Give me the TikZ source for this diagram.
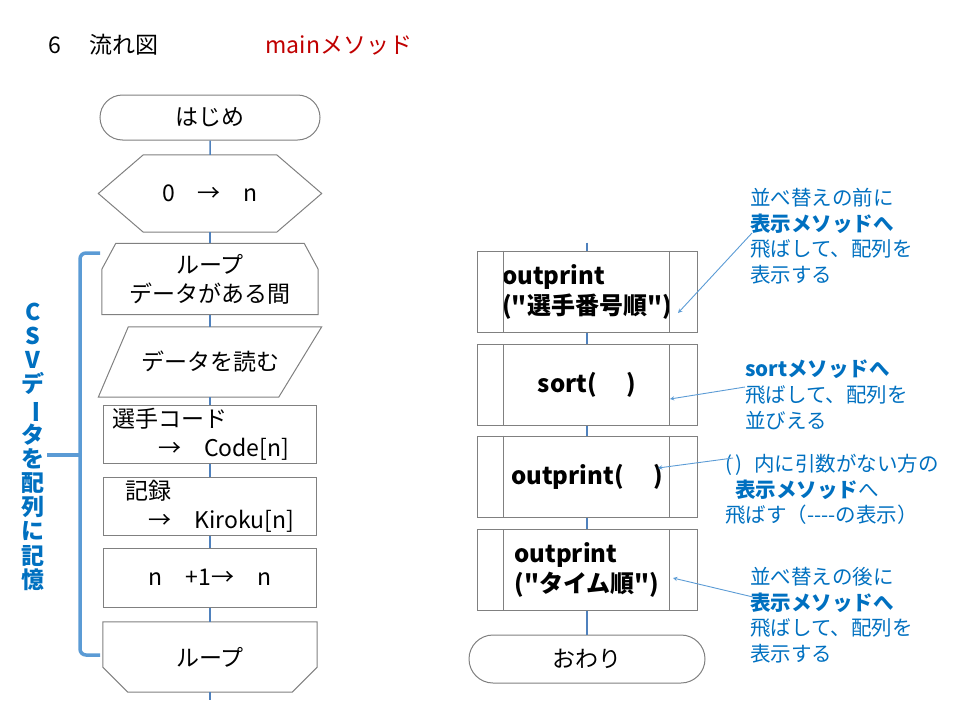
\documentclass[tikz,border=0pt]{standalone}
\usepackage{fontspec}
\setmainfont{Noto Sans CJK JP}
\usepackage{xcolor}
\usetikzlibrary{shapes.misc}
\definecolor{boxgray}{RGB}{128,128,128}
\definecolor{flowblue}{RGB}{79,129,189}
\definecolor{bracecol}{RGB}{91,155,213}
\definecolor{noteblue}{RGB}{0,112,192}
\definecolor{titlered}{RGB}{192,0,0}
\tikzstyle{term} = [rounded rectangle, draw=boxgray, line width=1pt, fill=white, minimum width=220pt, minimum height=45pt, inner sep=0pt]
\tikzstyle{ghost} = [draw=none, inner sep=0pt, align=center]
\tikzstyle{outline} = [draw=boxgray, line width=1pt]
\tikzstyle{proc} = [rectangle, draw=boxgray, line width=1pt, minimum width=213pt, minimum height=58pt, inner sep=0pt, align=left]
\tikzstyle{subr} = [rectangle, draw=boxgray, line width=1pt, minimum width=220pt, minimum height=81pt, inner sep=0pt, align=left, font=\bfseries\fontsize{24pt}{30pt}\selectfont]
\tikzstyle{flow} = [draw=flowblue, line width=1.5pt]
\tikzstyle{pointer} = [->, >=stealth, draw=bracecol, line width=0.9pt]
\tikzstyle{note} = [anchor=north west, inner sep=0pt, align=left, text=noteblue, font=\fontsize{20.5pt}{25.7pt}\selectfont]
\tikzstyle{brace} = [draw=bracecol, line width=3.5pt]

\begin{document}
\begin{tikzpicture}[x=1pt,y=-1pt,font=\fontsize{23pt}{29pt}\selectfont]
  \useasboundingbox (0,0) rectangle (960,720);
  \node[anchor=west] (ttl) at (45,45) {6　 流れ図};
  \node[anchor=west, text=titlered] (mname) at (262,45) {mainメソッド};

  % left column
  \node[term] (start) at (210,117.5) {はじめ};
  \node[ghost, minimum width=223pt, minimum height=77pt, node distance=76pt, below of=start] (init) {0　→　n};
  \node[ghost, minimum width=216pt, minimum height=71pt, node distance=85.5pt, below of=init] (lbeg) {ループ\\データがある間};
  \node[ghost, minimum width=223pt, minimum height=70pt, node distance=83pt, below of=lbeg] (para) {データを読む};
  \node[proc, text width=196pt, node distance=72pt, below of=para] (code) {選手コード\\　　→　Code[n]};
  \node[proc, node distance=72pt, below of=code] (kiro) {記録\\　→　Kiroku[n]};
  \node[proc, minimum height=59pt, node distance=71.5pt, below of=kiro] (incr) {n　+1→　n};
  \node[ghost, minimum width=214pt, minimum height=70pt, node distance=79.5pt, below of=incr] (lend) {ループ};

  \draw[outline] (init.west) -- ([xshift=45pt]init.north west) -- ([xshift=-45pt]init.north east) -- (init.east) -- ([xshift=-45pt]init.south east) -- ([xshift=45pt]init.south west) -- cycle;
  \draw[outline] (lbeg.south west) -- ([yshift=-26pt]lbeg.north west) -- ([xshift=14pt]lbeg.north west) -- ([xshift=-14pt]lbeg.north east) -- ([yshift=-26pt]lbeg.north east) -- (lbeg.south east) -- cycle;
  \draw[outline] (para.south west) -- ([xshift=30pt]para.north west) -- (para.north east) -- ([xshift=-43pt]para.south east) -- cycle;
  \draw[outline] (lend.north west) -- ([yshift=25pt]lend.south west) -- ([xshift=25pt]lend.south west) -- ([xshift=-25pt]lend.south east) -- ([yshift=25pt]lend.south east) -- (lend.north east) -- cycle;

  \coordinate (lout) at ([yshift=-8pt]lend.south);
  \draw[flow] (start) -- (init);
  \draw[flow] (init) -- (lbeg);
  \draw[flow] (lbeg) -- (para);
  \draw[flow] (para) -- (code);
  \draw[flow] (code) -- (kiro);
  \draw[flow] (kiro) -- (incr);
  \draw[flow] (incr) -- (lend);
  \draw[flow] (lend) -- (lout);

  % brace and its label
  \draw[brace, rounded corners=6pt] (100,253) -- (80,253) -- (80,655) -- (100,655);
  \draw[brace] (47,455) -- (80,455);
  \node[anchor=north, inner sep=0pt, align=center, text=noteblue, font=\bfseries\fontsize{23pt}{24.1pt}\selectfont] (store) at (33,303) {C\\S\\V\\デ\\\rotatebox[origin=c]{-90}{ー}\\タ\\を\\配\\列\\に\\記\\憶};

  % right column
  \node[subr] (op1) at (587,291.5) {outprint\\(\textquotedbl 選手番号順\textquotedbl)};
  \node[subr, node distance=93.5pt, below of=op1] (srt) {sort(　 )};
  \node[subr, node distance=91.5pt, below of=srt] (op2) {outprint(　 )};
  \node[subr, node distance=93.5pt, below of=op2] (op3) {outprint\\(\textquotedbl タイム順\textquotedbl)};
  \node[term, minimum width=236pt, minimum height=48pt, node distance=89pt, below of=op3] (fin) {おわり};

  \draw[outline] ([xshift=27pt]op1.north west) -- ([xshift=27pt]op1.south west);
  \draw[outline] ([xshift=-28pt]op1.north east) -- ([xshift=-28pt]op1.south east);
  \draw[outline] ([xshift=27pt]srt.north west) -- ([xshift=27pt]srt.south west);
  \draw[outline] ([xshift=-28pt]srt.north east) -- ([xshift=-28pt]srt.south east);
  \draw[outline] ([xshift=27pt]op2.north west) -- ([xshift=27pt]op2.south west);
  \draw[outline] ([xshift=-28pt]op2.north east) -- ([xshift=-28pt]op2.south east);
  \draw[outline] ([xshift=27pt]op3.north west) -- ([xshift=27pt]op3.south west);
  \draw[outline] ([xshift=-28pt]op3.north east) -- ([xshift=-28pt]op3.south east);

  \coordinate (rin) at ([yshift=8pt]op1.north);
  \draw[flow] (rin) -- (op1);
  \draw[flow] (op1) -- (srt);
  \draw[flow] (srt) -- (op2);
  \draw[flow] (op2) -- (op3);
  \draw[flow] (op3) -- (fin);

  % notes
  \node[note] (n1) at (750,188) {並べ替えの前に\\\textbf{表示メソッドへ}\\飛ばして、配列を\\表示する};
  \node[note] (n2) at (745,360) {\textbf{sortメソッドへ}\\飛ばして、配列を\\並びえる};
  \node[note] (n3) at (725,454) {(\,)\hspace{12pt}内に引数がない方の\\\hspace*{10pt}\textbf{表示メソッド}へ\\飛ばす（-{}-{}-{}-の表示）};
  \node[note] (n4) at (750,567) {並べ替えの後に\\\textbf{表示メソッドへ}\\飛ばして、配列を\\表示する};

  \coordinate (p1a) at (752,233);
  \coordinate (p1b) at (678,313);
  \coordinate (p2a) at (745,387);
  \coordinate (p2b) at (670,399);
  \coordinate (p3a) at (733,458);
  \coordinate (p3b) at (658,468);
  \coordinate (p4a) at (753,597);
  \coordinate (p4b) at (673,578);
  \draw[pointer] (p1a) -- (p1b);
  \draw[pointer] (p2a) -- (p2b);
  \draw[pointer] (p3a) -- (p3b);
  \draw[pointer] (p4a) -- (p4b);
\end{tikzpicture}
\end{document}
